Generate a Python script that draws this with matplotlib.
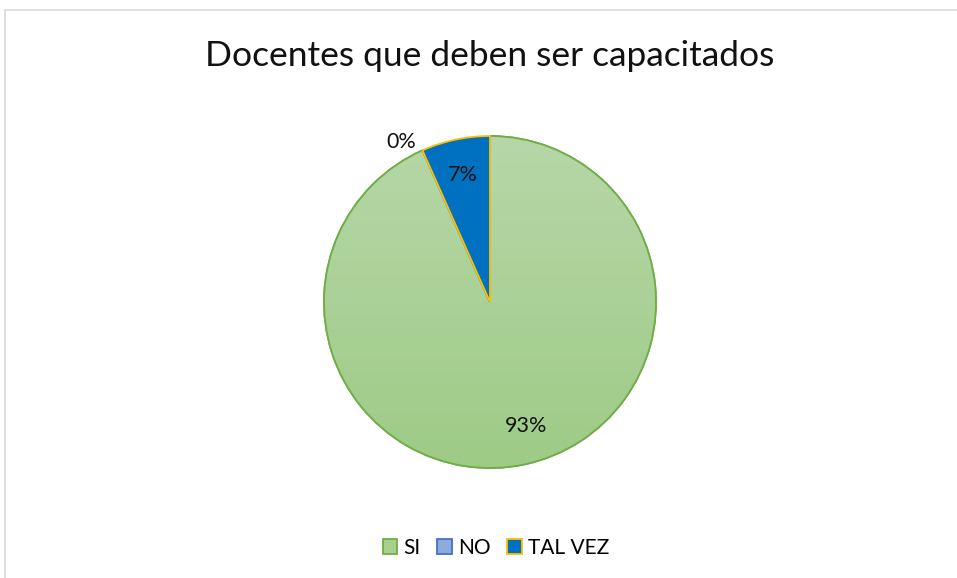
import numpy as np
import matplotlib
matplotlib.use("Agg")
import matplotlib.pyplot as plt
from matplotlib.patches import Rectangle, Patch, Wedge
from matplotlib.colors import LinearSegmentedColormap

categories = ["SI", "NO", "TAL VEZ"]
values = [14, 0, 1]
faces = ["#A9D18E", "#8FAADC", "#0070C0"]
edges = ["#70AD47", "#4472C4", "#FFC000"]
title = "Docentes que deben ser capacitados"

plt.rcParams['font.family'] = ['Lato', 'DejaVu Sans']

W, H = 957, 578
fig = plt.figure(figsize=(W / 100, H / 100), dpi=100)
fig.patch.set_facecolor("white")

# chart border
fig.add_artist(Rectangle((5 / W, -0.01), 1.0, 1 - 10 / H + 0.01, transform=fig.transFigure,
                         fill=False, edgecolor="#D9D9D9", linewidth=1.2))

fig.text(490 / W, 1 - 56 / H, title, ha="center", va="center", fontsize=25.5, color="#111111")

cx, cy, r = 490, 302, 166
ax = fig.add_axes([(cx - r) / W, (H - cy - r) / H, 2 * r / W, 2 * r / H])
wedges, _ = ax.pie(values, startangle=90, counterclock=False, colors=faces,
                   wedgeprops=dict(linewidth=1.3), radius=1.0)
for w, e in zip(wedges, edges):
    w.set_edgecolor(e)
    w.set_clip_on(False)

# gradient on SI wedge
grad = np.linspace(0, 1, 256).reshape(-1, 1)
cmap = LinearSegmentedColormap.from_list("g", ["#B6D7A8", "#9ECB86"])
im = ax.imshow(grad, extent=[-1, 1, -1, 1], origin="upper", cmap=cmap, aspect="auto",
               zorder=wedges[0].get_zorder() + 0.1)
im.set_clip_path(wedges[0])
w0 = wedges[0]
ax.add_patch(Wedge(w0.center, w0.r, w0.theta1, w0.theta2, fill=False, edgecolor=edges[0],
                   linewidth=1.3, zorder=im.get_zorder() + 0.1, clip_on=False))
for w in wedges[1:]:
    w.set_zorder(im.get_zorder() + 0.2)

total = sum(values)
for w, v in zip(wedges, values):
    mid = (w.theta1 + w.theta2) / 2
    if v > 0:
        d = 0.78
        if v / total > 0.5:
            mid += 4
    else:
        d = 1.10
        mid += 5
    ang = np.deg2rad(mid)
    pct = f"{round(100 * v / total)}%"
    ax.text(d * np.cos(ang), d * np.sin(ang), pct,
            ha="center", va="center", fontsize=15.5, color="#111111")

ax.set_xlim(-1, 1)
ax.set_ylim(-1, 1)
ax.axis("off")

handles = [Patch(facecolor=f, edgecolor=e, linewidth=1.3) for f, e in zip(faces, edges)]
fig.legend(handles, categories, loc="center", bbox_to_anchor=(496 / W, 1 - 548 / H),
           ncol=3, frameon=False, fontsize=15, handlelength=0.7, handleheight=0.7,
           handletextpad=0.3, columnspacing=0.8)

fig.savefig("out.png", dpi=100, facecolor="white")
